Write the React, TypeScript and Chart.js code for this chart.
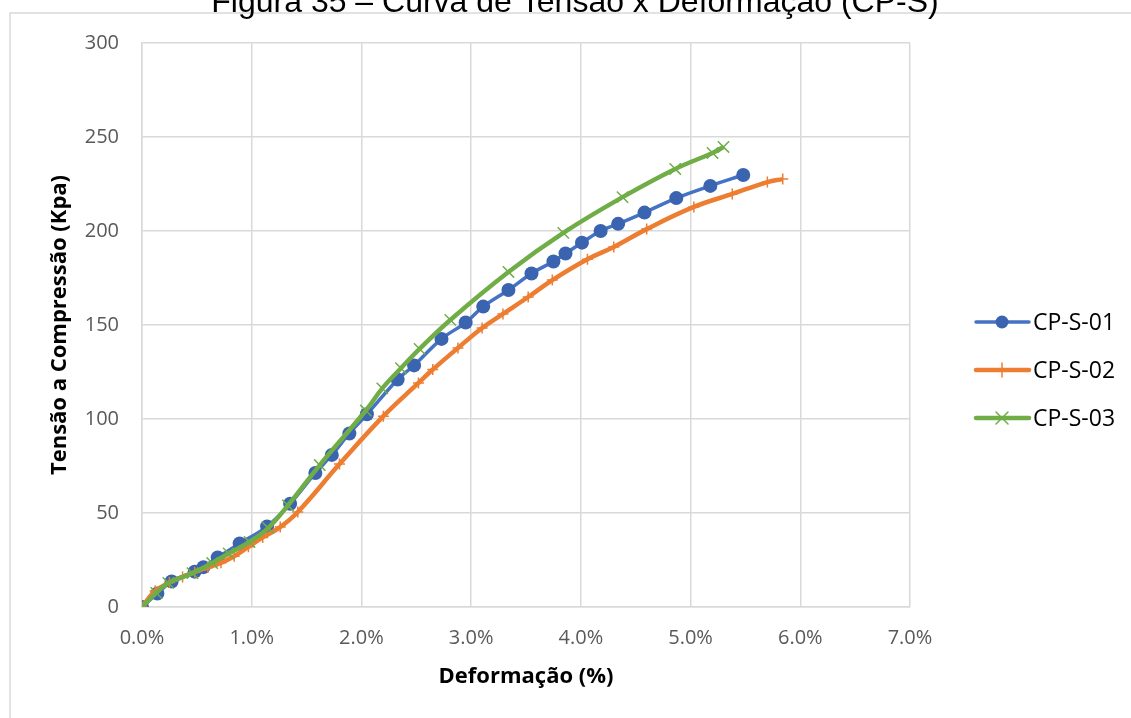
import React, { useEffect, useRef } from 'react';
import { Chart, registerables } from 'chart.js';

Chart.register(...registerables);

const chartTitle = 'Figura 35 – Curva de Tensão x Deformação (CP-S)';
const xAxisTitle = 'Deformação (%)';
const yAxisTitle = 'Tensão a Compressão (Kpa)';
const seriesNames = ['CP-S-01', 'CP-S-02', 'CP-S-03'];

const xMin = 0;
const xMax = 7;
const xStep = 1;
const yMin = 0;
const yMax = 300;
const yStep = 50;

// CP-S-01 (deformação %, tensão kPa)
const s1X = [0, 0.14, 0.27, 0.48, 0.56, 0.69, 0.89, 1.14, 1.35, 1.58, 1.73, 1.89, 2.05, 2.33, 2.48, 2.73, 2.95, 3.11, 3.34, 3.55, 3.75, 3.86, 4.01, 4.18, 4.34, 4.58, 4.87, 5.18, 5.48];
const s1Y = [0, 7.2, 13.6, 18.8, 21.2, 26.3, 33.8, 42.8, 54.9, 71.3, 80.9, 92.3, 102.5, 121, 128.5, 142.6, 151.3, 159.8, 168.6, 177.4, 183.8, 188, 193.8, 200, 203.8, 209.8, 217.5, 224, 229.8];

// CP-S-02
const s2X = [0, 0.12, 0.25, 0.37, 0.48, 0.6, 0.72, 0.84, 0.97, 1.1, 1.26, 1.42, 1.8, 2.2, 2.52, 2.65, 2.88, 3.1, 3.29, 3.52, 3.74, 4.06, 4.3, 4.6, 5.03, 5.38, 5.7, 5.84];
const s2Y = [0, 8.5, 13, 16, 18.5, 21, 23.5, 27, 32, 37, 42.5, 50.5, 76, 101.5, 119.2, 126.3, 137.8, 148.4, 155.9, 164.9, 173.9, 185, 191.5, 201, 212.8, 219.7, 226, 227.6];

// CP-S-03
const s3X = [0, 0.13, 0.24, 0.46, 0.64, 0.79, 0.98, 1.15, 1.33, 1.62, 2.04, 2.19, 2.36, 2.53, 2.81, 3.34, 3.84, 4.38, 4.86, 5.2, 5.3];
const s3Y = [0, 7.5, 12.8, 18, 23.4, 28.5, 34.6, 42, 54, 75.5, 104.5, 116.3, 127, 137.3, 152.7, 178.2, 199, 218, 233, 241.5, 244.7];

const colors = ['#4472C4', '#ED7D31', '#70AD47'];
const markerFill = '#3B64B0';

const toPts = (xs: number[], ys: number[]) => xs.map((x, i) => ({ x, y: ys[i] }));

const W = 1131;
const H = 718;
const PLOT_L = 142;
const PLOT_R = 910;
const PLOT_T = 43;
const PLOT_B = 607;

const framePlugin = {
  id: 'frameTitle',
  beforeDraw(chart: any) {
    const ctx = chart.ctx;
    ctx.save();
    ctx.fillStyle = '#ffffff';
    ctx.fillRect(0, 0, W, H);
    ctx.strokeStyle = '#d9d9d9';
    ctx.lineWidth = 1.5;
    ctx.beginPath();
    ctx.moveTo(10, H);
    ctx.lineTo(10, 13);
    ctx.lineTo(W, 13);
    ctx.stroke();
    ctx.fillStyle = '#000000';
    ctx.font = '32px "Liberation Sans", Arial, sans-serif';
    ctx.textAlign = 'center';
    ctx.textBaseline = 'alphabetic';
    ctx.fillText(chartTitle, 575, 12);
    ctx.restore();
  },
};

const legendPlugin = {
  id: 'customLegend',
  afterDraw(chart: any) {
    const ctx = chart.ctx;
    const ys = [322, 370, 418];
    ctx.save();
    chart.data.datasets.forEach((ds: any, i: number) => {
      const y = ys[i];
      ctx.strokeStyle = ds.borderColor;
      ctx.lineWidth = ds.borderWidth;
      ctx.lineCap = 'round';
      ctx.beginPath();
      ctx.moveTo(976, y);
      ctx.lineTo(1029, y);
      ctx.stroke();
      const cx = 1002;
      if (i === 0) {
        ctx.fillStyle = markerFill;
        ctx.beginPath();
        ctx.arc(cx, y, 6.5, 0, Math.PI * 2);
        ctx.fill();
      } else if (i === 1) {
        ctx.strokeStyle = ds.pointBorderColor;
        ctx.lineWidth = 1.5;
        ctx.beginPath();
        ctx.moveTo(cx, y - 7);
        ctx.lineTo(cx, y + 7);
        ctx.moveTo(cx - 7, y);
        ctx.lineTo(cx + 7, y);
        ctx.stroke();
      } else {
        ctx.strokeStyle = ds.pointBorderColor;
        ctx.lineWidth = 1.5;
        const r = 6;
        ctx.beginPath();
        ctx.moveTo(cx - r, y - r);
        ctx.lineTo(cx + r, y + r);
        ctx.moveTo(cx - r, y + r);
        ctx.lineTo(cx + r, y - r);
        ctx.stroke();
      }
      ctx.fillStyle = '#000000';
      ctx.font = '23px "Open Sans", sans-serif';
      ctx.textAlign = 'left';
      ctx.textBaseline = 'middle';
      ctx.fillText(seriesNames[i], 1033, y + 1);
    });
    ctx.restore();
  },
};

export default function App() {
  const ref = useRef<HTMLCanvasElement | null>(null);
  useEffect(() => {
    if (!ref.current) return;
    const chart = new Chart(ref.current, {
      type: 'line',
      data: {
        datasets: [
          {
            label: seriesNames[0],
            data: toPts(s1X, s1Y),
            borderColor: colors[0],
            backgroundColor: markerFill,
            borderWidth: 3.5,
            pointStyle: 'circle',
            pointRadius: 7,
            pointBorderWidth: 0,
            pointBackgroundColor: markerFill,
            pointBorderColor: markerFill,
            tension: 0.35,
            order: 3,
          },
          {
            label: seriesNames[1],
            data: toPts(s2X, s2Y),
            borderColor: colors[1],
            backgroundColor: colors[1],
            borderWidth: 4.5,
            pointStyle: 'cross',
            pointRadius: 5.5,
            pointBorderWidth: 1.5,
            pointBorderColor: colors[1],
            pointBackgroundColor: colors[1],
            tension: 0.4,
            order: 2,
          },
          {
            label: seriesNames[2],
            data: toPts(s3X, s3Y),
            borderColor: colors[2],
            backgroundColor: colors[2],
            borderWidth: 4.5,
            pointStyle: 'crossRot',
            pointRadius: 8,
            pointBorderWidth: 1.5,
            pointBorderColor: colors[2],
            pointBackgroundColor: colors[2],
            tension: 0.4,
            order: 1,
          },
        ],
      },
      options: {
        responsive: false,
        animation: false,
        devicePixelRatio: 1,
        layout: { padding: { left: 0, top: PLOT_T, right: W - PLOT_R, bottom: 0 } },
        plugins: { legend: { display: false }, tooltip: { enabled: false }, title: { display: false } },
        scales: {
          x: {
            type: 'linear',
            min: xMin,
            max: xMax,
            afterFit: (s: any) => {
              s.height = H - PLOT_B;
              s.paddingLeft = 0;
              s.paddingRight = 0;
            },
            ticks: {
              stepSize: xStep,
              padding: 19,
              color: '#595959',
              font: { family: '"Open Sans", sans-serif', size: 20 },
              callback: (v: any) => Number(v).toFixed(1) + '%',
            },
            grid: { color: '#d9d9d9', lineWidth: 1.5, drawTicks: false },
            border: { display: true, color: '#d9d9d9', width: 1.5 },
            title: {
              display: true,
              text: xAxisTitle,
              color: '#000000',
              font: { family: '"Open Sans", sans-serif', size: 22, weight: 'bold' },
              padding: { top: 0, bottom: 28 },
            },
          },
          y: {
            type: 'linear',
            min: yMin,
            max: yMax,
            afterFit: (s: any) => {
              s.width = PLOT_L;
              s.paddingTop = 0;
              s.paddingBottom = 0;
            },
            ticks: {
              stepSize: yStep,
              padding: 23,
              color: '#595959',
              font: { family: '"Open Sans", sans-serif', size: 20 },
            },
            grid: { color: '#d9d9d9', lineWidth: 1.5, drawTicks: false },
            border: { display: true, color: '#d9d9d9', width: 1.5 },
            title: {
              display: true,
              text: yAxisTitle,
              color: '#000000',
              font: { family: '"Open Sans", sans-serif', size: 22, weight: 'bold' },
              padding: { top: 47, bottom: 0 },
            },
          },
        },
      },
      plugins: [framePlugin, legendPlugin],
    } as any);
    return () => chart.destroy();
  }, []);
  return (
    <div style={{ position: 'fixed', left: 0, top: 0, width: W, height: H }}>
      <canvas ref={ref} width={W} height={H} style={{ width: W, height: H, display: 'block' }} />
    </div>
  );
}
